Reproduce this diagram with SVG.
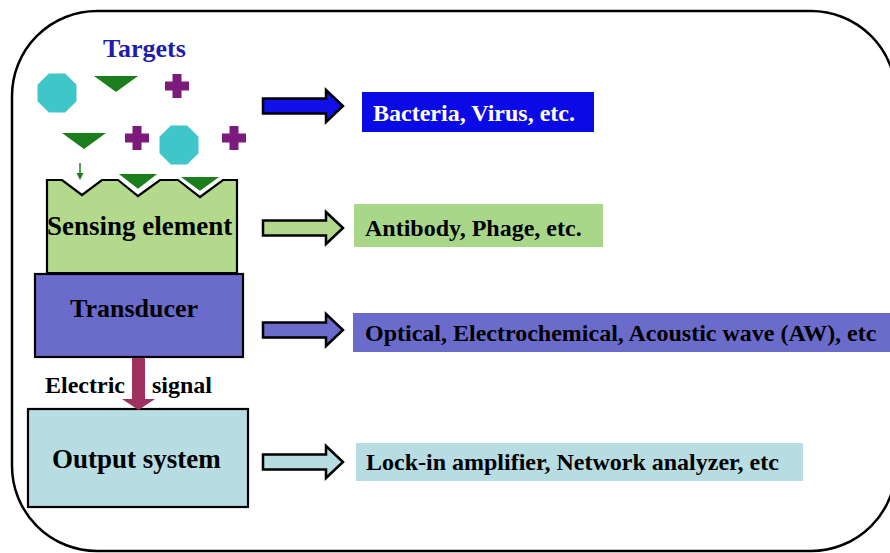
<svg xmlns="http://www.w3.org/2000/svg" width="890" height="553" viewBox="0 0 890 553">
<defs>
<style>
.t{font-family:"Liberation Serif","Times New Roman",serif;font-weight:bold;}
.blk{stroke:#000;stroke-width:2.2;}
.oct{fill:#3ec6c8;}
.tri{fill:#1b7d1b;}
.crs{fill:#7d1a7d;}
.barrow{stroke:#000;stroke-width:2.5;stroke-linejoin:miter;}
</style>
<polygon id="octShape" class="oct" points="-8.2,-19.5 8.2,-19.5 19.5,-8.2 19.5,8.2 8.2,19.5 -8.2,19.5 -19.5,8.2 -19.5,-8.2"/>
<polygon id="crossShape" class="crs" points="-4.5,-12 4.5,-12 4.5,-4.5 12,-4.5 12,4.5 4.5,4.5 4.5,12 -4.5,12 -4.5,4.5 -12,4.5 -12,-4.5 -4.5,-4.5"/>
<polygon id="triShape" class="tri" points="-22,0 22,0 0,16"/>
<polygon id="blockArrow" points="0,-7.5 63,-7.5 63,-16 80,0 63,16 63,7.5 0,7.5"/>
</defs>

<rect x="12" y="11" width="884" height="540" rx="85" ry="85" fill="#fff" stroke="#000" stroke-width="2.5"/>

<g id="targets">
<text class="t" x="103" y="57" font-size="26" fill="#1e1eaa">Targets</text>
<use href="#octShape" x="57" y="93"/>
<use href="#triShape" x="116" y="76"/>
<use href="#crossShape" x="177" y="86"/>
<use href="#triShape" x="84" y="133"/>
<use href="#crossShape" x="137" y="138"/>
<use href="#octShape" x="179" y="145"/>
<use href="#crossShape" x="234" y="138"/>
</g>

<g id="sensing-element">
<polygon points="47,273 47,180 62,180 82,195 102,180 118,180 138,196 160,180 178,180 200,197 223,180 237,180 237,273" fill="#b3d98c" class="blk"/>
<polygon points="116,173 160,173 138,190" class="tri" stroke="#fff" stroke-width="2"/>
<polygon points="178,176 222,176 200,192" class="tri" stroke="#fff" stroke-width="2"/>
<line x1="80" y1="163" x2="80" y2="174" stroke="#1b7d1b" stroke-width="1.5"/>
<polygon points="76.5,173 83.5,173 80,180" fill="#1b7d1b"/>
<text class="t" x="47" y="235" font-size="27" fill="#000">Sensing element</text>
</g>

<g id="transducer">
<rect x="35" y="274" width="208" height="83" fill="#6b6bcc" class="blk"/>
<text class="t" x="70" y="317" font-size="26" fill="#000">Transducer</text>
</g>

<g id="output-system">
<rect x="28" y="409" width="220" height="98" fill="#b7dde3" class="blk"/>
<text class="t" x="52" y="468" font-size="27" fill="#000">Output system</text>
</g>

<g id="label-targets">
<rect x="362" y="92" width="232" height="40" fill="#0a0ae6"/>
<text class="t" x="373" y="121" font-size="24" fill="#fff">Bacteria, Virus, etc.</text>
</g>
<g id="label-sensing">
<rect x="354" y="204" width="249" height="43" fill="#a9d78a"/>
<text class="t" x="365" y="236" font-size="24" fill="#000">Antibody, Phage, etc.</text>
</g>
<g id="label-transducer">
<rect x="353" y="313" width="540" height="39" fill="#6b6bcc"/>
<text class="t" x="365" y="341" font-size="24" fill="#000">Optical, Electrochemical, Acoustic wave (AW), etc</text>
</g>
<g id="label-output">
<rect x="356" y="443" width="447" height="38" fill="#b7dde3"/>
<text class="t" x="366" y="470" font-size="24" fill="#000">Lock-in amplifier, Network analyzer, etc</text>
</g>

<g id="connectors">
<use href="#blockArrow" x="263" y="106" fill="#1010e8" class="barrow"/>
<use href="#blockArrow" x="263" y="228" fill="#b3d98c" class="barrow"/>
<use href="#blockArrow" x="263" y="330" fill="#6b6bcc" class="barrow"/>
<use href="#blockArrow" x="263" y="462" fill="#b7dde3" class="barrow"/>
<polygon points="132,358 145,358 145,399 155,399 138.5,410 122,399 132,399" fill="#a0305f"/>
<text class="t" x="45" y="393" font-size="24" fill="#000">Electric</text>
<text class="t" x="152" y="393" font-size="24" fill="#000">signal</text>
</g>
</svg>
